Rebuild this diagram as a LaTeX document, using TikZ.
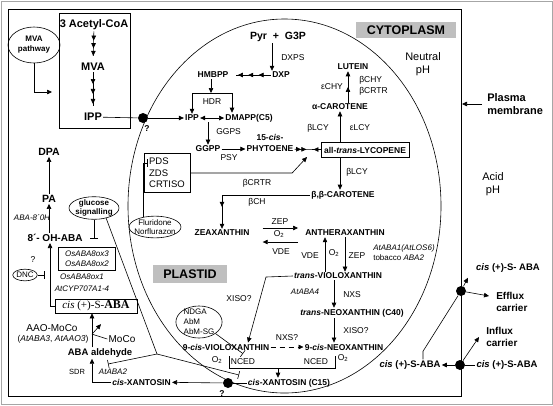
\documentclass[tikz,border=0pt]{standalone}
\usepackage{fontspec}
\setmainfont{Liberation Sans}
\newfontfamily\tnr{Liberation Serif}
\usetikzlibrary{arrows.meta,shapes.geometric,decorations.markings}
\tikzset{every path/.style={line width=0.6pt}, >={Triangle[length=5pt,width=4.5pt]}}
\tikzset{met/.style={font=\fontsize{8.5}{10}\selectfont\bfseries, inner sep=1pt},
         big/.style={font=\fontsize{10.5}{12.5}\selectfont\bfseries, inner sep=1pt},
         enz/.style={font=\fontsize{8.5}{10}\selectfont, inner sep=1pt},
         ital/.style={font=\fontsize{8}{10}\selectfont\itshape, inner sep=1pt},
         tag/.style={font=\fontsize{12.5}{14}\selectfont\bfseries, fill=black!25, inner sep=0pt},
         blob/.style={circle, fill=black, inner sep=0pt, minimum size=10pt},
         oval/.style={ellipse, draw, inner sep=0pt, align=center},
         inh/.style={-{Bar[width=8pt]}},
         three/.style={shorten >=6pt, postaction={decorate}, decoration={markings,
            mark=at position 0.3 with {\arrow{>}}, mark=at position 0.55 with {\arrow{>}},
            mark=at position 0.8 with {\arrow{>}}}},
         two/.style={->, postaction={decorate}, decoration={markings,
            mark=at position #1 with {\arrow{>}}}},
         two/.default=0.5,
         mix/.style={postaction={decorate}, decoration={markings,
            mark=at position 0.25 with {\arrow{>}}, mark=at position 0.45 with {\arrow{>}},
            mark=at position 0.72 with {\arrowreversed{>}}}}}

\begin{document}
\begin{tikzpicture}[x=1pt,y=-1pt]
  \useasboundingbox (0,0) rectangle (553,405);
  \draw[black!35, line width=1pt] (1,1) rectangle (552,404);
  \draw (8,9) rectangle (461,396);
  \draw (284.5,206) ellipse [x radius=156.5pt, y radius=187pt];
  \node[tag, minimum width=100pt, minimum height=16pt] (cyto) at (406,30) {CYTOPLASM};
  \node[tag, minimum width=74pt, minimum height=18pt] (plas) at (190,274) {PLASTID};

  % mevalonate route in the cytoplasm
  \begin{scope}
   \node[oval, font=\fontsize{8}{10}\selectfont\bfseries, minimum width=52pt, minimum height=36pt] (mvap) at (34,45) {MVA\\pathway};
   \draw (59,13) rectangle (130,128);
   \node[big, font=\fontsize{11}{13}\selectfont\bfseries] (acoa) at (94,25) {3 Acetyl-CoA};
   \node[big, font=\fontsize{11}{13}\selectfont\bfseries] (mva) at (93,67) {MVA};
   \node[big, font=\fontsize{11}{13}\selectfont\bfseries] (ippc) at (93,117) {IPP};
   \coordinate (mvin) at (52,92);
   \node[blob] (pore1) at (143,118) {};
   \node[met] (q1) at (147,129) {?};
   \draw[three] (acoa) -- (mva);
   \draw[three] (mva) -- (ippc);
   \draw[->] (mvap.south) |- (mvin);
   \draw (ippc) -- (pore1);
  \end{scope}

  % MEP route and carotenoids
  \begin{scope}
   \node[big] (pyr) at (278,37) {Pyr ~+~ G3P};
   \node[met] (dxp) at (281,75) {DXP};
   \node[enz, anchor=west] (dxps) at (280,58) {DXPS};
   \node[met] (hmbpp) at (213,75) {HMBPP};
   \node[met] (ipp) at (192,118) {IPP};
   \node[met] (dmapp) at (249,118) {DMAPP(C5)};
   \node[enz] (hdr) at (212,102) {HDR};
   \node[met] (ggpp) at (208,149) {GGPP};
   \node[enz, anchor=west] (ggps) at (215,132) {GGPS};
   \node[met] (phyt) at (270,149) {PHYTOENE};
   \node[met] (cis15) at (270,137) {15-\textit{cis}-};
   \node[enz] (psy) at (229,158) {PSY};
   \node[met, draw, inner xsep=3pt, minimum height=15pt] (lyc) at (365,150) {all-\textit{trans}-LYCOPENE};
   \node[draw, align=left, font=\fontsize{9.5}{11.5}\selectfont, inner xsep=5pt, minimum height=39pt] (pds) at (167,173) {PDS\\ZDS\\CRTISO};
   \coordinate (pj) at (307,157);
   \node[oval, font=\fontsize{8}{9.5}\selectfont, inner xsep=-2.3pt] (flu) at (155,227) {Fluridone\\Norflurazon};

   \coordinate (px) at ([xshift=-6pt]pyr.south);
   \draw[->] (px) -- (px |- dxp.north);
   \draw[three] (dxp) -- (hmbpp);
   \coordinate (hb) at (211,93);
   \draw[->] (hmbpp.south -| hb) -- (hb);
   \draw[->] (hb) -| (ipp.north);
   \draw[->] (hb) -| ([xshift=-17pt]dmapp.north);
   \draw[<->] (ipp) -- (dmapp);
   \draw[->] (ggpp.north |- ipp.south) -- (ggpp);
   \draw[->] (ggpp) -- (phyt);
   \draw[mix] (phyt) -- (lyc);
   \draw[->] (pds.east) -- ++(102,0) -- (pj);
   \draw[inh] (flu.140) |- ([xshift=4pt,yshift=-10pt]pds.north west);

   \node[met] (acar) at (340,107) {α-CAROTENE};
   \node[met] (lut) at (353,67) {LUTEIN};
   \node[enz] (blcy1) at (318,128) {βLCY};
   \node[enz] (elcy1) at (360,128) {εLCY};
   \node[enz] (echy) at (332,87) {εCHY};
   \node[enz, anchor=west] (bchy) at (358,80) {βCHY};
   \node[enz, anchor=west] (bcrtr) at (358,91) {βCRTR};
   \draw[->] (lyc.north -| acar) -- (acar);
   \coordinate (lx) at ([xshift=8pt]acar.north);
   \draw[two] (lx) -- (lx |- lut.south);

   \node[met] (bbcar) at (343,195) {β,β-CAROTENE};
   \node[enz] (blcy2) at (357,172) {βLCY};
   \node[met] (zea) at (222,233) {ZEAXANTHIN};
   \node[enz] (bcrtr2) at (257,183) {βCRTR};
   \node[enz] (bch) at (257,202) {βCH};
   \node[met] (anth) at (345,233) {ANTHERAXANTHIN};
   \node[enz] (zep1) at (280,222) {ZEP};
   \node[enz] (o21) at (279,234) {O\textsubscript{2}};
   \node[enz] (vde1) at (281,252) {VDE};
   \draw[->] (lyc.south -| acar) -- (bbcar.north -| acar);
   \draw[two=0.82] (bbcar.west) -| (zea.north);
   \draw[->] ([xshift=12pt,yshift=5pt]zea.east) -- ([xshift=-6pt,yshift=5pt]anth.west);
   \draw[->] ([xshift=-6pt,yshift=-9pt]anth.west) -- ([xshift=12pt,yshift=-9pt]zea.east);

   \node[met] (viol) at (338,276) {\textit{trans}-VIOLOXANTHIN};
   \node[enz] (vde2) at (310,256) {VDE};
   \node[enz] (o22) at (334,253) {O\textsubscript{2}};
   \node[enz] (zep2) at (357,256) {ZEP};
   \node[ital, anchor=west] (ataba1) at (372,248) {AtABA1(AtLOS6)};
   \node[enz, font=\fontsize{8}{10}\selectfont, anchor=west] (tob) at (372,258) {tobacco \textit{ABA2}};
   \draw[->] ([xshift=-13pt]viol.north) -- ([xshift=-20pt]anth.south);
   \draw[->] (anth.south) -- ([xshift=7pt]viol.north);

   \node[ital] (ataba4) at (305,292) {AtABA4};
   \node[enz] (nxs) at (352,295) {NXS};
   \node[met] (neo) at (352,313) {\textit{trans}-NEOXANTHIN (C40)};
   \node[enz] (xiso2) at (356,331) {XISO?};
   \node[met] (neo9) at (344,347) {9-\textit{cis}-NEOXANTHIN};
   \node[met] (vio9) at (226,347) {9-\textit{cis}-VIOLOXANTHIN};
   \node[enz] (nxs2) at (287,338) {NXS?};
   \node[enz] (xiso1) at (239,299) {XISO?};
   \coordinate (vx) at ([xshift=-4pt]viol.south);
   \draw[->] (vx) -- (vx |- neo.north);
   \draw[->] (vx |- neo.south) -- (vx |- neo9.north);
   \draw[->, dash pattern=on 5pt off 4pt] (vio9) -- (neo9);
   \coordinate (xb) at (266,277);
   \draw[->] (viol.west) -- (xb) -- ([xshift=22pt]vio9.north);

   \node[oval, align=left, font=\fontsize{8}{10}\selectfont, inner xsep=1pt, inner ysep=-1.5pt] (ndga) at (199,322) {NDGA\\AbM\\AbM-SG};
   \node[enz] (nced1) at (243,362) {NCED};
   \node[enz] (nced2) at (316,362) {NCED};
   \node[enz] (o23) at (217,360) {O\textsubscript{2}};
   \node[enz] (o24) at (343,358) {O\textsubscript{2}};
   \node[met] (xan15) at (289,383) {\textit{cis}-XANTOSIN (C15)};
   \coordinate (bl) at (229,356);
   \coordinate (br) at (335,356);
   \coordinate (bm) at (278,368);
   \draw (bl) -- ++(0,12) -| (br);
   \draw[->] (bm) -- (bm |- xan15.north);
   \draw[inh] (ndga.-35) -- ([yshift=4pt]nced1.north);
   \node[blob] (pore2) at (228,383) {};
   \node[met] (q2) at (222,394) {?};
  \end{scope}
  \draw[->] (pore1) -- (ipp);

  % ABA in the cytoplasm
  \begin{scope}
   \node[met] (xanc) at (111,382) [anchor=west] {\textit{cis}-XANTOSIN};
   \node[big, font=\fontsize{9.5}{11}\selectfont\bfseries] (ald) at (100,353) {ABA aldehyde};
   \node[enz, font=\fontsize{7.5}{9}\selectfont] (sdr) at (77,372) {SDR};
   \node[ital] (ataba2) at (113,372) {AtABA2};
   \node[draw, font=\tnr\fontsize{11}{13}\selectfont, minimum width=82pt, minimum height=14pt, inner sep=1pt] (aba) at (96,306) {\textit{cis} (+)-S-\textbf{\fontsize{12}{13}\selectfont ABA}};
   \node[enz, font=\fontsize{10}{12}\selectfont] (moco) at (122,339) {MoCo};
   \node[enz, font=\fontsize{10}{12}\selectfont] (aao) at (52,328) {AAO-MoCo};
   \node[enz] (aao2) at (53,339) {(\textit{AtABA3}, \textit{AtAAO3})};
   \draw (xan15) -- (pore2);
   \draw[->] (pore2) -- (xanc);
   \coordinate (ax) at ([xshift=-8pt]ald.south);
   \draw[->] (xanc.west) -| (ax);
   \coordinate (ay) at ([xshift=-8pt]ald.north);
   \draw[->] (ay) -- (ay |- aba.south);
   \coordinate (mj) at (ay |- moco.north);
   \draw (moco.west) -- (mj);
   \draw[->] (mj) -- ++(9,-10);

   \node[big] (dpa) at (49,152) {DPA};
   \node[big] (pa) at (49,199) {PA};
   \node[big, font=\fontsize{10}{12}\selectfont\bfseries] (oh) at (55,238) {8´- OH-ABA};
   \node[ital] (aba8) at (32,218) {ABA-8´0H};
   \node[enz] (q3) at (33,260) {?};
   \node[draw, align=left, font=\fontsize{8}{10}\selectfont\itshape, inner xsep=6.5pt, inner ysep=3.5pt] (osb) at (87,259) {OsABA8ox3\\OsABA8ox2};
   \node[ital] (os1) at (82,277) {OsABA8ox1};
   \node[ital] (cyp) at (82,289) {AtCYP707A1-4};
   \node[oval, font=\fontsize{8}{9.5}\selectfont\bfseries, inner xsep=-1pt, inner ysep=-0.5pt] (glu) at (94,208) {glucose\\signalling};
   \node[oval, font=\fontsize{8}{9}\selectfont, inner ysep=1.3pt] (dnc) at (25,275) {DNC};
   \draw[->] (pa) -- (dpa);
   \draw[->] (oh.north -| pa) -- (pa);
   \coordinate (ox) at ([xshift=-5pt]oh.south);
   \draw[->] (aba.west) -| (ox);
   \draw[inh] (glu.south) -- ++(0,19);
   \draw[inh] (dnc) -- ++(20,0);
   \coordinate (gj) at (157,354);
   \coordinate (t1) at (108,364);
   \coordinate (t2) at (239,375);
   \draw (glu.-40) -- (gj);
   \draw[inh] (gj) -- (t1);
   \draw[inh] (gj) -- (t2);
  \end{scope}

  % outside the cell
  \begin{scope}
   \node[font=\fontsize{11}{13}\selectfont, align=center] (neut) at (423,64) {Neutral\\pH};
   \node[font=\fontsize{11}{13}\selectfont, align=center] (acid) at (493,184) {Acid\\pH};
   \node[big, font=\fontsize{11}{12.5}\selectfont\bfseries, align=left, anchor=west] (pm) at (486,104) {Plasma\\membrane};
   \coordinate (mem) at ([xshift=-24pt]pm.west);
   \draw[->] ([xshift=-4pt]pm.west) -- (mem);
   \node[blob] (pore3) at (461,291) {};
   \node[blob] (pore4) at (460,365) {};
   \node[met, font=\fontsize{9.5}{11}\selectfont\bfseries] (abaup) at (508,268) {\textit{cis} (+)-S- ABA};
   \node[big, font=\fontsize{10}{12.5}\selectfont\bfseries, align=left, anchor=west] (eff) at (495,302) {Efflux\\carrier};
   \node[met, font=\fontsize{9.5}{11}\selectfont\bfseries] (abain) at (410,365) {\textit{cis} (+)-S-ABA};
   \node[met, font=\fontsize{9.5}{11}\selectfont\bfseries] (abaout) at (507,365) {\textit{cis} (+)-S-ABA};
   \node[big, font=\fontsize{10}{12.5}\selectfont\bfseries, align=left, anchor=west] (inf) at (485,337) {Influx\\carrier};
   \coordinate (ai) at ([xshift=13pt]abain.north);
   \draw (ai) -- ++(0,-8) -- (pore3);
   \draw[->] (pore3) -- ([xshift=-7pt,yshift=-4pt]abaup.south west);
   \draw[->] (pore3) -- ([xshift=-6pt,yshift=6pt]eff.west);
   \draw (abaout) -- (pore4);
   \draw[->] (pore4) -- (abain);
   \draw[->] (pore4) -- ([xshift=-6pt]inf.west);
  \end{scope}
\end{tikzpicture}
\end{document}
